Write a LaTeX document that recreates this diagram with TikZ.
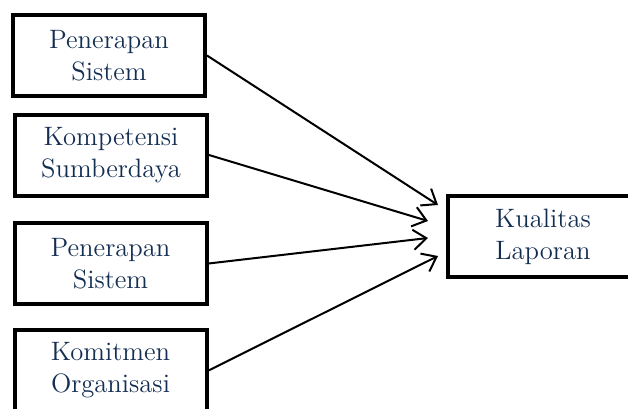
\documentclass[tikz,border=0pt]{standalone}
\usetikzlibrary{arrows.meta,calc}
\definecolor{textnavy}{HTML}{142E52}
\tikzset{
  varbox/.style={draw, line width=2pt, minimum width=96pt, minimum height=40.5pt,
    align=center, text=textnavy, font=\fontsize{13.3}{16}\selectfont, inner sep=0pt},
  link/.style={line width=1pt, -{Straight Barb[length=6.5pt,width=10pt,line width=1pt]}}
}
\begin{document}
\begin{tikzpicture}[x=0.5pt,y=-0.5pt]
\useasboundingbox (0,0) rectangle (628,408);
\clip (0,0) rectangle (628,408);
\coordinate (P1) at (109,55.5);
\coordinate (P2) at (111,155);
\coordinate (P3) at (110.5,263.5);
\coordinate (P4) at (110.5,370.5);
\coordinate (Q) at (543,236.5);
\node[varbox] (sistemA) at (P1) {Penerapan\\Sistem};
\node[varbox] (sumber) at (P2) {Kompetensi\\Sumberdaya};
\node[varbox] (sistemB) at (P3) {Penerapan\\Sistem};
\node[varbox] (komit) at (P4) {Komitmen\\Organisasi};
\node[varbox, minimum width=95pt] (kualitas) at (Q) {Kualitas\\Laporan};
\coordinate (T1) at ($(kualitas.west)+(-8,-31.5)$);
\coordinate (T2) at ($(kualitas.west)+(-18,-15.5)$);
\coordinate (T3) at ($(kualitas.west)+(-18,1.5)$);
\coordinate (T4) at ($(kualitas.west)+(-8,19.5)$);
\draw[link] (sistemA.east) -- (T1);
\draw[link] (sumber.east) -- (T2);
\draw[link] (sistemB.east) -- (T3);
\draw[link] (komit.east) -- (T4);
\end{tikzpicture}
\end{document}
